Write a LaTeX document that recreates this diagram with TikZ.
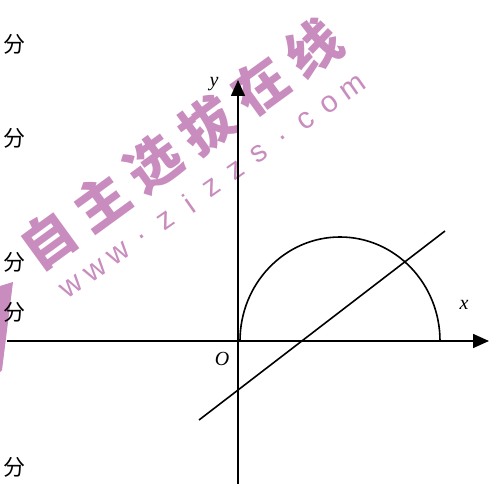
\documentclass[tikz,border=0pt]{standalone}
\usepackage{fontspec}
\setmainfont{Liberation Serif}
\newfontfamily\cjk{Noto Sans CJK SC}
\newfontfamily\wmsans{Liberation Sans}
\usetikzlibrary{arrows.meta}
\definecolor{wmpink}{RGB}{200,140,190}
\tikzset{
  axis/.style={line width=1.6pt,-{Triangle[length=16pt,width=14pt]}},
  curve/.style={line width=1.6pt},
  lbl/.style={font=\fontsize{20}{20}\selectfont\itshape,inner sep=0pt},
  fen/.style={font=\cjk\fontsize{22}{22}\selectfont,inner sep=0pt},
  wmcn/.style={font=\cjk\bfseries\fontsize{54}{54}\selectfont,text=wmpink,rotate=36,inner sep=0pt},
  wmen/.style={font=\wmsans\fontsize{30}{30}\selectfont,text=wmpink,rotate=35,inner sep=0pt}
}
\begin{document}
\begin{tikzpicture}[x=1pt,y=-1pt]
\useasboundingbox (0,0) rectangle (493,484);
% watermark
\fill[wmpink] (0,286) -- (13,282) -- (2,370) -- (0,372) -- cycle;
\foreach \c [count=\i from 0] in {自,主,选,拔,在,线}{
  \node[wmcn] (wc\i) at ({48+53*\i},{240-38.4*\i}) {\c};
}
\foreach \c [count=\i from 0] in {w,w,w,.,z,i,z,z,s,.,c,o,m}{
  \node[wmen] (we\i) at ({72+23.4*\i},{287-16.6*\i}) {\c};
}
% left characters
\node[fen] (f1) at (15,44) {分};
\node[fen] (f2) at (15,138) {分};
\node[fen] (f3) at (15,262) {分};
\node[fen] (f4) at (15,312) {分};
\node[fen] (f5) at (15,467) {分};
% axes
\coordinate (xs) at (7,341);
\coordinate (xe) at (489,341);
\coordinate (ys) at (238,484);
\coordinate (ye) at (238,80);
\draw[axis] (xs) -- (xe);
\draw[axis] (ys) -- (ye);
\node[lbl] (xl) at (464,305) {x};
\node[lbl] (yl) at (214,84) {y};
\node[lbl] (ol) at (222,359) {O};
% semicircle
\coordinate (a) at (240,341);
\draw[curve] (a) arc[start angle=180,end angle=0,x radius=100,y radius=-104];
% line
\coordinate (l1) at (199,420);
\coordinate (l2) at (445,231);
\draw[curve] (l1) -- (l2);
\end{tikzpicture}
\end{document}
